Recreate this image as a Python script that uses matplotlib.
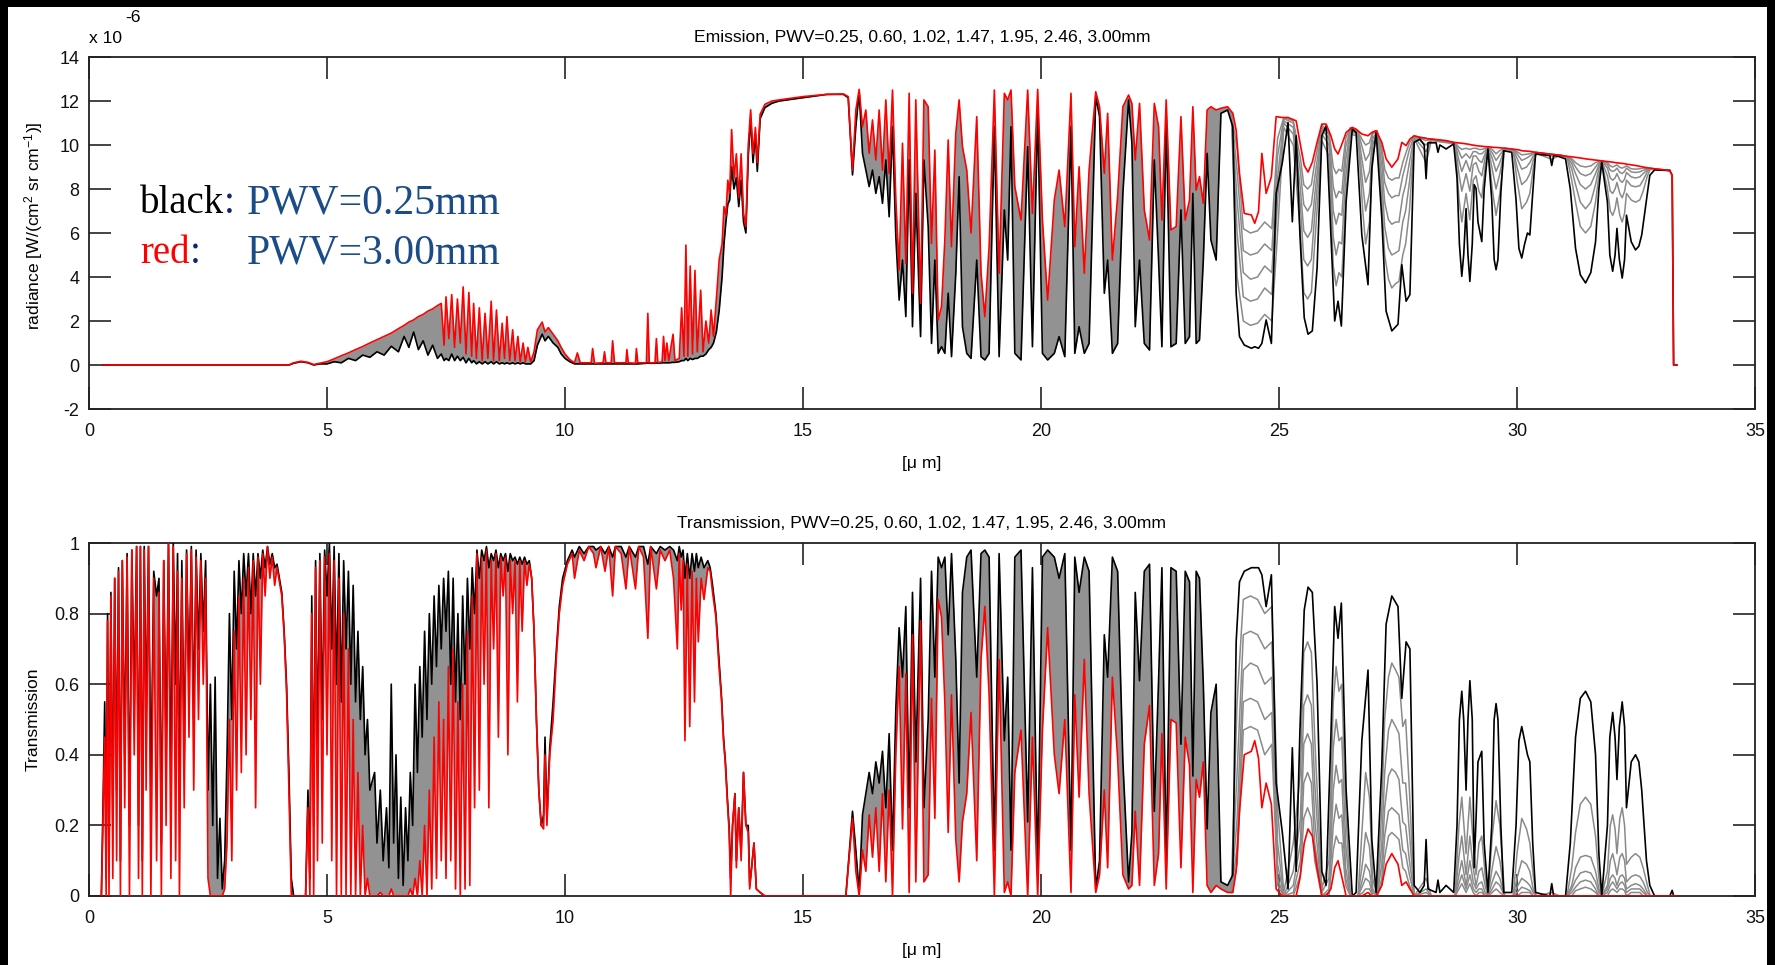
import matplotlib
matplotlib.use("Agg")
import matplotlib.pyplot as plt
import numpy as np
from matplotlib.patches import Rectangle
from matplotlib.ticker import FuncFormatter

# ---- emission spectrum (units of 1e-6 W/(cm^2 sr cm^-1)), PWV = 0.25 mm (black) and 3.00 mm (red)
em_um = [
    0.30, 4.20, 4.30, 4.45, 4.60, 4.72, 4.85, 5.00, 5.15, 5.30,
    5.45, 5.60, 5.75, 5.90, 6.05, 6.20, 6.35, 6.50, 6.62, 6.72,
    6.82, 6.92, 7.02, 7.12, 7.22, 7.32, 7.40, 7.46, 7.50, 7.56,
    7.62, 7.68, 7.74, 7.80, 7.86, 7.92, 7.98, 8.04, 8.08, 8.14,
    8.20, 8.26, 8.32, 8.38, 8.45, 8.50, 8.56, 8.62, 8.68, 8.73,
    8.78, 8.84, 8.90, 8.95, 9.01, 9.06, 9.12, 9.17, 9.22, 9.28,
    9.35, 9.42, 9.52, 9.58, 9.65, 9.75, 9.85, 9.92, 10.00, 10.10,
    10.20, 10.26, 10.32, 10.55, 10.58, 10.62, 10.80, 10.83, 10.86, 10.97,
    11.00, 11.04, 11.28, 11.30, 11.33, 11.48, 11.50, 11.53, 11.71, 11.74,
    11.77, 11.89, 11.92, 11.95, 12.04, 12.07, 12.10, 12.14, 12.18, 12.27,
    12.31, 12.40, 12.45, 12.50, 12.54, 12.58, 12.63, 12.68, 12.73, 12.78,
    12.85, 12.90, 12.96, 13.02, 13.07, 13.12, 13.18, 13.24, 13.30, 13.34,
    13.38, 13.42, 13.46, 13.50, 13.55, 13.60, 13.65, 13.70, 13.75, 13.80,
    13.85, 13.90, 13.95, 14.00, 14.04, 14.10, 14.20, 14.35, 14.50, 15.00,
    15.50, 15.85, 15.95, 16.04, 16.11, 16.18, 16.25, 16.32, 16.39, 16.46,
    16.53, 16.60, 16.67, 16.74, 16.81, 16.88, 16.95, 17.02, 17.09, 17.16,
    17.23, 17.30, 17.37, 17.47, 17.54, 17.63, 17.70, 17.77, 17.84, 17.91,
    17.98, 18.05, 18.12, 18.21, 18.28, 18.35, 18.44, 18.53, 18.65, 18.74,
    18.82, 18.91, 19.02, 19.12, 19.23, 19.30, 19.37, 19.45, 19.58, 19.72,
    19.82, 19.93, 20.03, 20.14, 20.28, 20.38, 20.50, 20.63, 20.71, 20.80,
    20.91, 21.01, 21.15, 21.23, 21.33, 21.40, 21.50, 21.61, 21.72, 21.84,
    21.91, 21.98, 22.07, 22.17, 22.28, 22.38, 22.47, 22.54, 22.63, 22.73,
    22.84, 22.94, 23.03, 23.12, 23.19, 23.26, 23.33, 23.41, 23.49, 23.57,
    23.68, 23.78, 23.92, 24.03, 24.10, 24.17, 24.27, 24.42, 24.49, 24.57,
    24.64, 24.73, 24.84, 24.94, 25.07, 25.19, 25.28, 25.36, 25.44, 25.53,
    25.61, 25.70, 25.80, 25.90, 25.99, 26.09, 26.17, 26.24, 26.31, 26.41,
    26.54, 26.62, 26.74, 26.87, 26.95, 27.04, 27.16, 27.25, 27.37, 27.50,
    27.58, 27.67, 27.75,
    27.84, 27.96, 28.05, 28.09, 28.13, 28.30, 28.34, 28.38, 28.51, 28.67,
    28.74, 28.79, 28.84, 28.88, 28.93, 28.97, 29.01, 29.06, 29.10, 29.14,
    29.18, 29.26, 29.31, 29.39, 29.47, 29.52, 29.56, 29.60, 29.66, 29.72,
    29.89, 29.98, 30.04, 30.10, 30.16, 30.22, 30.27, 30.33, 30.39, 30.69,
    30.73, 30.77, 30.86, 31.02, 31.12, 31.23, 31.33, 31.44, 31.55, 31.65,
    31.72, 31.78, 31.90, 31.95, 32.01, 32.06, 32.10, 32.15, 32.21, 32.26,
    32.30, 32.40, 32.49, 32.56, 32.62, 32.72, 32.79, 32.89, 33.21, 33.26,
    33.29, 33.36,
]
em_pwv025 = [
    0.00, 0.00, 0.08, 0.15, 0.10, 0.00, 0.05, 0.05, 0.15, 0.10,
    0.30, 0.20, 0.45, 0.35, 0.60, 0.45, 0.85, 0.60, 1.30, 0.80,
    1.50, 0.70, 1.10, 0.45, 0.90, 0.30, 0.50, 0.20, 0.30, 0.20,
    0.50, 0.20, 0.40, 0.20, 0.35, 0.10, 0.30, 0.10, 0.20, 0.05,
    0.15, 0.05, 0.15, 0.05, 0.15, 0.05, 0.15, 0.05, 0.10, 0.05,
    0.10, 0.05, 0.10, 0.05, 0.10, 0.05, 0.10, 0.05, 0.05, 0.05,
    0.20, 0.90, 1.40, 1.10, 1.30, 1.00, 0.80, 0.50, 0.30, 0.15,
    0.05, 0.05, 0.05, 0.05, 0.05, 0.05, 0.05, 0.05, 0.05, 0.05,
    0.05, 0.05, 0.05, 0.05, 0.05, 0.05, 0.05, 0.05, 0.08, 0.10,
    0.08, 0.08, 0.10, 0.08, 0.10, 0.10, 0.10, 0.10, 0.10, 0.12,
    0.12, 0.15, 0.20, 0.20, 0.30, 0.20, 0.30, 0.25, 0.30, 0.30,
    0.40, 0.40, 0.50, 0.70, 0.80, 1.00, 1.50, 2.50, 4.00, 5.50,
    6.50, 7.30, 7.50, 9.00, 8.00, 8.50, 7.20, 8.40, 6.50, 6.00,
    9.50, 11.20, 9.20, 10.50, 8.80, 11.20, 11.70, 11.90, 12.00, 12.15,
    12.30, 12.30, 12.15, 8.64, 10.83, 12.42, 9.62, 8.86, 8.11, 8.86,
    7.80, 8.56, 7.35, 9.32, 6.74, 10.83, 5.83, 2.95, 4.77, 2.20,
    9.32, 1.74, 7.80, 1.29, 9.32, 6.29, 0.98, 4.77, 0.53, 0.83,
    0.53, 3.26, 0.38, 4.17, 8.56, 1.74, 0.53, 0.30, 4.77, 0.38,
    0.23, 0.53, 10.83, 0.38, 7.05, 4.77, 10.83, 0.53, 0.23, 9.92,
    0.83, 11.59, 0.53, 0.23, 0.53, 1.29, 0.38, 10.83, 0.53, 1.74,
    0.53, 0.98, 12.20, 11.29, 3.26, 4.77, 0.53, 0.98, 7.80, 12.05,
    10.08, 1.74, 4.77, 0.98, 0.68, 9.32, 4.77, 0.83, 11.14, 0.83,
    0.98, 7.05, 0.98, 1.29, 7.80, 0.98, 1.14, 4.77, 9.62, 5.68,
    4.77, 11.44, 11.59, 10.83, 3.26, 1.29, 0.91, 0.76, 0.83, 0.76,
    0.98, 2.05, 0.98, 7.80, 9.20, 11.02, 6.51, 10.42, 5.91, 2.15,
    1.40, 1.55, 4.41, 10.42, 10.87, 5.91, 2.00, 2.90, 1.77, 7.41,
    10.72, 10.57, 5.91, 3.65, 8.92, 10.57, 6.66, 2.45, 1.55, 1.85,
    4.56, 2.90, 3.20,
    10.12, 10.27, 10.00, 8.47, 10.10, 10.10, 9.67, 10.00, 9.82, 10.05,
    8.50, 5.50, 4.03, 5.00, 7.11, 5.00, 3.80, 5.50, 8.20, 8.02,
    6.50, 5.61, 8.00, 9.82, 7.50, 4.80, 4.33, 4.80, 7.80, 9.74,
    9.67, 7.50, 5.30, 4.86, 5.50, 6.00, 5.91, 7.80, 9.59, 9.52,
    9.07, 9.52, 9.49, 9.37, 8.00, 5.30, 4.10, 3.73, 4.20, 5.60,
    8.00, 9.22, 7.41, 5.00, 4.26, 5.00, 6.21, 4.80, 3.95, 4.80,
    6.81, 5.60, 5.23, 5.40, 5.91, 7.50, 8.62, 8.87, 8.84, 8.62,
    0.00, 0.00,
]
em_pwv300 = [
    0.00, 0.00, 0.10, 0.17, 0.12, 0.02, 0.08, 0.15, 0.28, 0.42,
    0.55, 0.70, 0.84, 1.00, 1.15, 1.30, 1.45, 1.65, 1.80, 1.95,
    2.05, 2.20, 2.30, 2.45, 2.55, 2.70, 2.80, 0.90, 3.10, 1.20,
    3.20, 0.80, 3.00, 1.00, 3.55, 0.50, 3.30, 0.40, 2.80, 0.30,
    2.60, 0.20, 2.35, 0.30, 2.90, 0.20, 2.50, 0.20, 1.90, 0.30,
    2.20, 0.20, 1.60, 0.20, 1.30, 0.15, 1.00, 0.15, 0.80, 0.15,
    0.60, 1.60, 1.95, 1.50, 1.70, 1.40, 1.10, 0.80, 0.50, 0.25,
    0.10, 0.55, 0.10, 0.10, 0.75, 0.08, 0.10, 0.60, 0.10, 0.10,
    1.10, 0.10, 0.10, 0.70, 0.10, 0.08, 0.75, 0.10, 0.10, 2.35,
    0.10, 0.10, 1.20, 0.10, 0.15, 1.30, 0.20, 1.00, 0.20, 1.40,
    0.20, 0.30, 2.60, 0.40, 5.45, 0.40, 4.50, 0.50, 4.30, 0.60,
    3.40, 0.60, 2.00, 1.00, 2.50, 1.30, 3.00, 4.80, 5.50, 7.20,
    6.80, 8.40, 7.80, 10.70, 8.50, 9.60, 7.60, 9.60, 6.90, 6.30,
    10.00, 11.60, 9.60, 10.80, 9.20, 11.40, 11.85, 12.00, 12.05, 12.20,
    12.30, 12.32, 12.20, 8.86, 11.59, 12.53, 10.83, 11.59, 9.62, 11.14,
    9.32, 11.59, 8.86, 12.05, 8.71, 12.50, 7.50, 4.32, 10.08, 4.62,
    12.35, 3.26, 12.05, 2.80, 12.05, 11.74, 5.53, 9.77, 2.05, 2.65,
    5.68, 10.23, 5.38, 10.53, 12.05, 9.92, 8.86, 6.00, 11.29, 4.17,
    2.20, 5.38, 12.50, 4.17, 12.35, 12.05, 12.50, 8.11, 6.59, 12.50,
    6.89, 12.53, 6.59, 2.95, 7.50, 8.86, 6.29, 12.35, 5.38, 9.01,
    4.17, 8.86, 12.42, 11.74, 8.71, 11.44, 4.77, 7.65, 11.74, 12.27,
    11.89, 9.32, 11.89, 7.05, 5.68, 11.89, 10.83, 6.59, 12.05, 6.14,
    6.29, 11.29, 6.59, 7.50, 11.74, 7.95, 8.56, 7.35, 11.59, 11.74,
    11.59, 11.67, 11.74, 11.44, 10.68, 8.71, 6.89, 6.82, 6.44, 6.97,
    9.62, 7.80, 8.56, 11.29, 11.25, 11.25, 11.17, 11.10, 10.12, 9.07,
    8.77, 9.22, 10.12, 10.95, 10.95, 10.42, 9.82, 9.59, 9.97, 10.57,
    10.80, 10.72, 10.50, 10.42, 10.57, 10.65, 10.12, 9.37, 8.99, 9.37,
    10.12, 9.97, 10.27,
    10.42, 10.35, 10.32, 10.30, 10.28, 10.25, 10.24, 10.23, 10.20, 10.12,
    10.10, 10.09, 10.08, 10.07, 10.05, 10.04, 10.02, 10.00, 9.99, 9.97,
    9.96, 9.94, 9.93, 9.92, 9.90, 9.89, 9.89, 9.88, 9.87, 9.86,
    9.82, 9.80, 9.78, 9.74, 9.73, 9.72, 9.71, 9.69, 9.67, 9.59,
    9.58, 9.57, 9.55, 9.49, 9.47, 9.44, 9.41, 9.37, 9.34, 9.31,
    9.29, 9.28, 9.25, 9.24, 9.22, 9.20, 9.19, 9.18, 9.16, 9.15,
    9.13, 9.10, 9.07, 9.04, 9.01, 8.97, 8.95, 8.92, 8.84, 8.62,
    0.00, 0.00,
]

# ---- transmission, PWV = 0.25 mm (black) and 3.00 mm (red)
tr_um = [
    0.26, 0.30, 0.33, 0.36, 0.39, 0.42, 0.46, 0.50, 0.54, 0.58,
    0.62, 0.66, 0.70, 0.75, 0.80, 0.85, 0.90, 0.95, 1.00, 1.04,
    1.08, 1.12, 1.16, 1.20, 1.25, 1.30, 1.36, 1.42, 1.47, 1.52,
    1.57, 1.62, 1.67, 1.72, 1.77, 1.82, 1.86, 1.90, 1.95, 2.00,
    2.05, 2.10, 2.15, 2.20, 2.25, 2.30, 2.35, 2.40, 2.45, 2.50,
    2.55, 2.60, 2.65, 2.70, 2.75, 2.80, 2.85, 2.90, 2.95, 3.00,
    3.05, 3.10, 3.15, 3.20, 3.25, 3.30, 3.35, 3.40, 3.45, 3.50,
    3.55, 3.60, 3.65, 3.70, 3.75, 3.80, 3.85, 3.90, 3.95, 4.00,
    4.05, 4.10, 4.15, 4.20, 4.25, 4.30, 4.55, 4.60, 4.64, 4.68,
    4.72, 4.76, 4.80, 4.85, 4.90, 4.95, 5.00, 5.05, 5.10, 5.15,
    5.20, 5.25, 5.30, 5.35, 5.40, 5.45, 5.50, 5.55, 5.60, 5.65,
    5.70, 5.75, 5.80, 5.85, 5.90, 6.00, 6.05, 6.12, 6.18, 6.25,
    6.30, 6.35, 6.40, 6.45, 6.50, 6.55, 6.60, 6.65, 6.70, 6.75,
    6.80, 6.85, 6.90, 6.95, 7.00, 7.05, 7.10, 7.15, 7.20, 7.25,
    7.30, 7.35, 7.40, 7.45, 7.50, 7.55, 7.60, 7.65, 7.70, 7.75,
    7.80, 7.85, 7.90, 7.95, 8.00, 8.05, 8.10, 8.15, 8.20, 8.25,
    8.30, 8.35, 8.40, 8.45, 8.50, 8.55, 8.60, 8.65, 8.70, 8.75,
    8.80, 8.85, 8.90, 8.95, 9.00, 9.05, 9.10, 9.15, 9.20, 9.25,
    9.30, 9.35, 9.40, 9.45, 9.50, 9.55, 9.58, 9.62, 9.68, 9.75,
    9.82, 9.88, 9.95, 10.05, 10.15, 10.20, 10.30, 10.40, 10.50, 10.60,
    10.65, 10.75, 10.84, 10.92, 11.00, 11.06, 11.18, 11.28, 11.35, 11.48,
    11.55, 11.65, 11.74, 11.80, 11.92, 12.00, 12.10, 12.20, 12.28, 12.36,
    12.40, 12.44, 12.48, 12.52, 12.57, 12.62, 12.67, 12.72, 12.76, 12.80,
    12.86, 12.92, 13.00, 13.05, 13.10, 13.17, 13.23, 13.29, 13.33, 13.37,
    13.41, 13.45, 13.48, 13.52, 13.57, 13.60, 13.65, 13.70, 13.75, 13.80,
    13.85, 13.88, 13.92, 13.97, 14.02, 14.10, 14.20, 15.90, 16.04, 16.11,
    16.18, 16.25, 16.32, 16.39, 16.46, 16.53, 16.60, 16.67, 16.74, 16.81,
    16.88, 16.95, 17.02, 17.09, 17.16, 17.23, 17.30, 17.37, 17.47, 17.54,
    17.63, 17.70, 17.77, 17.84, 17.91, 17.98, 18.05, 18.12, 18.21, 18.28,
    18.35, 18.44, 18.53, 18.65, 18.74, 18.82, 18.91, 19.02, 19.12, 19.23,
    19.30, 19.37, 19.45, 19.58, 19.72, 19.82, 19.93, 20.03, 20.14, 20.28,
    20.38, 20.50, 20.63, 20.71, 20.80, 20.91, 21.01, 21.15, 21.23, 21.33,
    21.40, 21.50, 21.61, 21.72, 21.84, 21.91, 21.98, 22.07, 22.17, 22.28,
    22.38, 22.47, 22.54, 22.63, 22.73, 22.84, 22.94, 23.03, 23.12, 23.19,
    23.26, 23.33, 23.41, 23.49, 23.57, 23.68, 23.78, 23.92, 24.03, 24.10,
    24.17, 24.27, 24.42, 24.49, 24.57, 24.64, 24.73, 24.84, 24.94, 25.07,
    25.19, 25.28, 25.36, 25.44, 25.53, 25.61, 25.70, 25.80, 25.90, 25.99,
    26.09, 26.17, 26.24, 26.31, 26.41, 26.54, 26.62, 26.74, 26.87, 26.95,
    27.04, 27.16, 27.25, 27.37, 27.50, 27.58, 27.67, 27.75,
    27.84, 27.96, 28.05, 28.09, 28.13, 28.30, 28.34, 28.38, 28.51, 28.67,
    28.74, 28.79, 28.84, 28.88, 28.93, 28.97, 29.01, 29.06, 29.10, 29.14,
    29.18, 29.26, 29.31, 29.39, 29.47, 29.52, 29.56, 29.60, 29.66, 29.72,
    29.89, 29.98, 30.04, 30.10, 30.16, 30.22, 30.27, 30.33, 30.39, 30.69,
    30.73, 30.77, 30.86, 31.02, 31.12, 31.23, 31.33, 31.44, 31.55, 31.65,
    31.72, 31.78, 31.90, 31.95, 32.01, 32.06, 32.10, 32.15, 32.21, 32.26,
    32.30, 32.40, 32.49, 32.56, 32.62, 32.72, 32.79, 32.89, 33.21, 33.26,
    33.29, 33.36,
]
tr_pwv025 = [
    0.00, 0.30, 0.55, 0.05, 0.80, 0.10, 0.86, 0.20, 0.90, 0.30,
    0.93, 0.10, 0.95, 0.40, 0.97, 0.20, 0.98, 0.55, 0.99, 0.20,
    0.99, 0.10, 0.99, 0.50, 0.99, 0.30, 0.92, 0.85, 0.90, 0.15,
    0.95, 0.40, 1.00, 0.30, 1.00, 0.60, 0.97, 0.30, 0.95, 0.40,
    0.98, 0.60, 0.99, 0.50, 0.98, 0.70, 0.97, 0.75, 0.95, 0.30,
    0.60, 0.20, 0.62, 0.05, 0.22, 0.02, 0.10, 0.40, 0.80, 0.50,
    0.92, 0.70, 0.95, 0.80, 0.97, 0.85, 0.97, 0.80, 0.97, 0.85,
    0.97, 0.90, 0.98, 0.93, 0.99, 0.94, 0.97, 0.93, 0.94, 0.90,
    0.86, 0.75, 0.60, 0.35, 0.05, 0.00, 0.00, 0.30, 0.05, 0.85,
    0.20, 0.95, 0.40, 0.97, 0.50, 0.98, 0.85, 1.00, 0.70, 0.99,
    0.60, 0.97, 0.55, 0.95, 0.70, 0.92, 0.60, 0.88, 0.55, 0.75,
    0.50, 0.65, 0.40, 0.50, 0.30, 0.35, 0.15, 0.30, 0.10, 0.25,
    0.08, 0.60, 0.15, 0.40, 0.05, 0.28, 0.03, 0.25, 0.10, 0.35,
    0.20, 0.60, 0.35, 0.65, 0.45, 0.75, 0.50, 0.80, 0.60, 0.85,
    0.65, 0.88, 0.70, 0.90, 0.75, 0.92, 0.60, 0.90, 0.55, 0.80,
    0.50, 0.85, 0.60, 0.90, 0.70, 0.93, 0.80, 0.98, 0.90, 0.98,
    0.95, 0.99, 0.93, 0.97, 0.95, 0.98, 0.93, 0.97, 0.95, 0.97,
    0.92, 0.97, 0.95, 0.96, 0.94, 0.96, 0.94, 0.96, 0.94, 0.95,
    0.90, 0.75, 0.50, 0.30, 0.20, 0.23, 0.45, 0.22, 0.42, 0.55,
    0.70, 0.82, 0.90, 0.95, 0.98, 0.96, 0.99, 0.97, 0.99, 0.99,
    0.98, 0.99, 0.97, 0.99, 0.96, 0.99, 0.99, 0.96, 0.99, 0.96,
    0.99, 0.99, 0.94, 0.99, 0.97, 0.99, 0.98, 0.99, 0.98, 0.95,
    0.99, 0.96, 0.98, 0.90, 0.97, 0.90, 0.97, 0.92, 0.97, 0.93,
    0.96, 0.93, 0.95, 0.93, 0.88, 0.80, 0.68, 0.56, 0.45, 0.38,
    0.28, 0.19, 0.05, 0.20, 0.29, 0.10, 0.25, 0.12, 0.35, 0.20,
    0.20, 0.03, 0.08, 0.15, 0.02, 0.01, 0.00, 0.00, 0.24, 0.13,
    0.01, 0.23, 0.29, 0.35, 0.29, 0.38, 0.32, 0.41, 0.25, 0.46,
    0.13, 0.53, 0.76, 0.62, 0.82, 0.25, 0.86, 0.38, 0.90, 0.25,
    0.50, 0.92, 0.62, 0.96, 0.93, 0.96, 0.74, 0.97, 0.67, 0.32,
    0.86, 0.96, 0.98, 0.62, 0.97, 0.98, 0.96, 0.13, 0.97, 0.44,
    0.62, 0.13, 0.96, 0.98, 0.21, 0.93, 0.07, 0.96, 0.98, 0.96,
    0.90, 0.97, 0.13, 0.96, 0.86, 0.96, 0.92, 0.02, 0.10, 0.74,
    0.62, 0.96, 0.92, 0.38, 0.04, 0.18, 0.86, 0.61, 0.92, 0.94,
    0.24, 0.61, 0.93, 0.09, 0.93, 0.92, 0.43, 0.92, 0.89, 0.34,
    0.92, 0.90, 0.60, 0.19, 0.52, 0.60, 0.04, 0.03, 0.06, 0.72,
    0.89, 0.92, 0.93, 0.93, 0.93, 0.91, 0.82, 0.91, 0.32, 0.18,
    0.02, 0.42, 0.07, 0.47, 0.81, 0.875, 0.86, 0.60, 0.07, 0.03,
    0.45, 0.82, 0.73, 0.83, 0.30, 0.00, 0.01, 0.44, 0.64, 0.16,
    0.01, 0.37, 0.77, 0.85, 0.82, 0.56, 0.72, 0.70,
    0.03, 0.01, 0.03, 0.16, 0.02, 0.01, 0.045, 0.01, 0.03, 0.01,
    0.20, 0.50, 0.58, 0.50, 0.30, 0.50, 0.61, 0.50, 0.08, 0.22,
    0.38, 0.41, 0.15, 0.01, 0.20, 0.50, 0.545, 0.50, 0.20, 0.01,
    0.01, 0.20, 0.44, 0.48, 0.44, 0.40, 0.38, 0.15, 0.01, 0.00,
    0.035, 0.00, 0.00, 0.00, 0.15, 0.45, 0.56, 0.58, 0.55, 0.40,
    0.12, 0.00, 0.20, 0.45, 0.52, 0.45, 0.33, 0.48, 0.55, 0.48,
    0.25, 0.38, 0.40, 0.38, 0.30, 0.10, 0.03, 0.00, 0.00, 0.016,
    0.00, 0.00,
]
tr_pwv300 = [
    0.00, 0.25, 0.45, 0.00, 0.78, 0.00, 0.85, 0.05, 0.90, 0.10,
    0.92, 0.00, 0.95, 0.25, 0.96, 0.00, 0.98, 0.40, 0.99, 0.05,
    0.99, 0.00, 0.98, 0.30, 0.99, 0.00, 0.90, 0.10, 0.86, 0.00,
    0.95, 0.20, 1.00, 0.05, 0.99, 0.10, 0.92, 0.00, 0.90, 0.25,
    0.97, 0.45, 0.98, 0.30, 0.96, 0.50, 0.95, 0.60, 0.90, 0.05,
    0.00, 0.00, 0.00, 0.00, 0.00, 0.00, 0.02, 0.15, 0.50, 0.10,
    0.75, 0.30, 0.85, 0.35, 0.90, 0.40, 0.93, 0.50, 0.95, 0.25,
    0.96, 0.60, 0.97, 0.85, 0.99, 0.90, 0.96, 0.88, 0.93, 0.89,
    0.85, 0.74, 0.58, 0.30, 0.00, 0.00, 0.00, 0.25, 0.00, 0.80,
    0.00, 0.93, 0.10, 0.95, 0.15, 0.96, 0.40, 0.97, 0.10, 0.95,
    0.00, 0.90, 0.00, 0.80, 0.00, 0.70, 0.00, 0.50, 0.00, 0.35,
    0.00, 0.20, 0.00, 0.05, 0.00, 0.00, 0.00, 0.01, 0.00, 0.00,
    0.00, 0.02, 0.00, 0.00, 0.00, 0.00, 0.00, 0.00, 0.00, 0.02,
    0.00, 0.05, 0.00, 0.10, 0.00, 0.20, 0.00, 0.30, 0.02, 0.45,
    0.05, 0.55, 0.10, 0.50, 0.05, 0.65, 0.10, 0.70, 0.02, 0.55,
    0.00, 0.60, 0.02, 0.75, 0.03, 0.85, 0.25, 0.97, 0.30, 0.96,
    0.60, 0.98, 0.25, 0.95, 0.70, 0.97, 0.45, 0.96, 0.85, 0.96,
    0.40, 0.95, 0.80, 0.95, 0.55, 0.95, 0.75, 0.95, 0.88, 0.94,
    0.90, 0.75, 0.50, 0.30, 0.20, 0.19, 0.40, 0.20, 0.40, 0.50,
    0.68, 0.80, 0.88, 0.94, 0.97, 0.90, 0.98, 0.95, 0.99, 0.97,
    0.93, 0.99, 0.92, 0.99, 0.85, 0.99, 0.97, 0.87, 0.99, 0.87,
    0.99, 0.96, 0.73, 0.99, 0.87, 0.98, 0.95, 0.98, 0.90, 0.70,
    0.97, 0.81, 0.95, 0.44, 0.94, 0.48, 0.92, 0.55, 0.90, 0.72,
    0.90, 0.84, 0.93, 0.92, 0.86, 0.79, 0.66, 0.55, 0.44, 0.37,
    0.27, 0.18, 0.00, 0.20, 0.29, 0.08, 0.25, 0.10, 0.35, 0.20,
    0.18, 0.02, 0.08, 0.15, 0.02, 0.01, 0.00, 0.00, 0.22, 0.07,
    0.00, 0.13, 0.07, 0.23, 0.11, 0.25, 0.07, 0.29, 0.04, 0.30,
    0.00, 0.40, 0.65, 0.19, 0.63, 0.01, 0.74, 0.04, 0.78, 0.04,
    0.06, 0.56, 0.22, 0.84, 0.79, 0.55, 0.18, 0.57, 0.16, 0.04,
    0.21, 0.29, 0.52, 0.10, 0.67, 0.82, 0.57, 0.00, 0.67, 0.01,
    0.04, 0.00, 0.35, 0.47, 0.00, 0.45, 0.00, 0.47, 0.76, 0.40,
    0.29, 0.50, 0.01, 0.57, 0.28, 0.67, 0.29, 0.01, 0.06, 0.30,
    0.08, 0.62, 0.39, 0.06, 0.02, 0.03, 0.24, 0.03, 0.43, 0.54,
    0.03, 0.12, 0.46, 0.02, 0.50, 0.49, 0.08, 0.45, 0.37, 0.01,
    0.33, 0.28, 0.38, 0.03, 0.01, 0.03, 0.02, 0.01, 0.01, 0.07,
    0.24, 0.40, 0.41, 0.44, 0.39, 0.25, 0.32, 0.26, 0.02, 0.00,
    0.00, 0.00, 0.00, 0.05, 0.15, 0.19, 0.17, 0.08, 0.00, 0.00,
    0.02, 0.08, 0.10, 0.06, 0.00, 0.00, 0.00, 0.00, 0.01, 0.00,
    0.00, 0.03, 0.09, 0.12, 0.09, 0.03, 0.04, 0.02,
    0.00, 0.00, 0.00, 0.00, 0.00, 0.00, 0.00, 0.00, 0.00, 0.00,
    0.00, 0.00, 0.00, 0.00, 0.00, 0.00, 0.00, 0.00, 0.00, 0.00,
    0.00, 0.00, 0.00, 0.00, 0.00, 0.00, 0.00, 0.00, 0.00, 0.00,
    0.00, 0.00, 0.00, 0.00, 0.00, 0.00, 0.00, 0.00, 0.00, 0.00,
    0.00, 0.00, 0.00, 0.00, 0.00, 0.00, 0.00, 0.00, 0.00, 0.00,
    0.00, 0.00, 0.00, 0.00, 0.00, 0.00, 0.00, 0.00, 0.00, 0.00,
    0.00, 0.00, 0.00, 0.00, 0.00, 0.00, 0.00, 0.00, 0.00, 0.00,
    0.00, 0.00,
]

# ---- intermediate PWV curves (0.60, 1.02, 1.47, 1.95, 2.46 mm) in the far-IR windows
fir_um = [
    24.00, 24.12, 24.25, 24.40, 24.55, 24.70, 24.85, 24.97, 25.10, 25.30,
    25.45, 25.52, 25.60, 25.68, 25.75, 25.90, 26.05, 26.14, 26.20, 26.26,
    26.32, 26.40, 26.50, 26.66, 26.76, 26.82, 26.90, 26.97, 27.06, 27.16,
    27.22, 27.30, 27.37, 27.45, 27.52, 27.60, 27.66, 27.74, 27.84, 28.09,
    28.20, 28.70, 28.78, 28.84, 28.93, 29.01, 29.08, 29.14, 29.20, 29.26,
    29.33, 29.39, 29.48, 29.56, 29.64, 29.74, 29.92, 30.00, 30.10, 30.20,
    30.27, 30.34, 30.40, 30.73, 30.90, 31.05, 31.15, 31.23, 31.33, 31.44,
    31.55, 31.65, 31.72, 31.78, 31.90, 31.96, 32.01, 32.06, 32.10, 32.16,
    32.21, 32.26, 32.30, 32.40, 32.49, 32.58, 32.65, 32.74, 32.80, 33.21,
]
em_pwv060 = [
    11.30, 4.00, 2.00, 1.80, 1.90, 2.30, 2.00, 6.00, 10.80, 10.00,
    6.00, 3.30, 3.00, 3.30, 5.50, 10.20, 9.50, 4.50, 3.60, 4.20,
    4.00, 7.50, 10.50, 10.40, 7.00, 5.50, 6.50, 9.50, 10.50, 7.50,
    5.00, 3.90, 3.50, 3.70, 3.80, 5.00, 5.50, 7.00, 10.30, 9.20,
    10.20, 10.05, 7.60, 6.50, 7.80, 6.60, 8.40, 8.60, 7.90, 7.60,
    9.00, 9.85, 8.00, 6.80, 7.80, 9.80, 9.75, 8.40, 7.10, 7.40,
    7.80, 8.90, 9.62, 9.35, 9.53, 9.45, 8.40, 7.40, 6.30, 6.00,
    6.30, 7.40, 8.60, 9.25, 8.00, 7.00, 6.80, 7.10, 7.60, 6.80,
    6.50, 6.90, 7.80, 7.50, 7.40, 7.50, 7.90, 8.60, 8.90, 8.84,
]
em_pwv102 = [
    11.40, 6.00, 3.10, 2.90, 3.00, 3.50, 3.20, 7.50, 11.00, 10.50,
    7.20, 4.80, 4.50, 4.80, 6.80, 10.50, 10.00, 5.80, 5.00, 5.60,
    5.50, 8.50, 10.60, 10.50, 8.20, 7.00, 7.80, 10.00, 10.60, 8.40,
    6.30, 5.30, 5.00, 5.10, 5.20, 6.50, 7.00, 8.30, 10.35, 9.70,
    10.25, 10.08, 8.70, 7.90, 8.70, 7.90, 9.10, 9.20, 8.80, 8.60,
    9.40, 9.88, 8.90, 8.00, 8.70, 9.82, 9.77, 9.00, 8.20, 8.40,
    8.70, 9.30, 9.64, 9.50, 9.53, 9.46, 8.90, 8.20, 7.40, 7.10,
    7.40, 8.20, 8.95, 9.26, 8.60, 7.90, 7.80, 8.00, 8.30, 7.80,
    7.60, 7.90, 8.40, 8.15, 8.10, 8.15, 8.40, 8.80, 8.91, 8.84,
]
em_pwv147 = [
    11.45, 7.50, 4.20, 3.90, 4.00, 4.50, 4.20, 8.50, 11.10, 10.80,
    8.00, 6.10, 5.80, 6.10, 7.70, 10.70, 10.30, 7.00, 6.40, 6.90,
    6.80, 9.30, 10.70, 10.55, 9.10, 8.30, 8.80, 10.30, 10.60, 9.10,
    7.40, 6.60, 6.40, 6.50, 6.50, 7.70, 8.20, 9.20, 10.40, 10.00,
    10.25, 10.10, 9.30, 8.80, 9.30, 8.80, 9.50, 9.50, 9.30, 9.20,
    9.60, 9.90, 9.40, 8.80, 9.20, 9.84, 9.78, 9.40, 8.90, 9.00,
    9.20, 9.50, 9.65, 9.55, 9.54, 9.47, 9.15, 8.70, 8.20, 8.00,
    8.20, 8.70, 9.10, 9.27, 8.95, 8.50, 8.40, 8.50, 8.70, 8.40,
    8.30, 8.45, 8.75, 8.55, 8.50, 8.55, 8.70, 8.87, 8.92, 8.84,
]
em_pwv195 = [
    11.50, 8.80, 5.20, 5.00, 5.10, 5.50, 5.20, 9.50, 11.20, 11.00,
    8.80, 7.30, 7.00, 7.30, 8.50, 10.80, 10.50, 8.10, 7.60, 7.90,
    7.80, 9.90, 10.75, 10.60, 9.80, 9.30, 9.60, 10.50, 10.65, 9.60,
    8.30, 7.80, 7.60, 7.70, 7.70, 8.60, 9.10, 9.80, 10.40, 10.20,
    10.27, 10.10, 9.70, 9.40, 9.60, 9.40, 9.70, 9.70, 9.60, 9.60,
    9.75, 9.90, 9.65, 9.30, 9.55, 9.85, 9.80, 9.60, 9.30, 9.40,
    9.50, 9.60, 9.66, 9.57, 9.54, 9.47, 9.30, 9.00, 8.70, 8.60,
    8.70, 9.00, 9.20, 9.27, 9.10, 8.85, 8.80, 8.85, 8.95, 8.75,
    8.70, 8.80, 8.95, 8.78, 8.75, 8.78, 8.85, 8.90, 8.93, 8.84,
]
em_pwv246 = [
    11.50, 9.80, 6.20, 6.00, 6.10, 6.50, 6.20, 10.30, 11.25, 11.10,
    9.40, 8.20, 8.00, 8.20, 9.20, 10.90, 10.60, 9.00, 8.70, 8.90,
    8.80, 10.30, 10.80, 10.60, 10.20, 10.00, 10.10, 10.60, 10.65, 9.90,
    8.90, 8.50, 8.40, 8.50, 8.50, 9.20, 9.60, 10.10, 10.40, 10.30,
    10.27, 10.10, 9.90, 9.80, 9.85, 9.80, 9.85, 9.85, 9.80, 9.80,
    9.85, 9.90, 9.80, 9.60, 9.75, 9.85, 9.80, 9.70, 9.55, 9.58,
    9.60, 9.65, 9.66, 9.57, 9.54, 9.48, 9.38, 9.20, 9.05, 9.00,
    9.05, 9.20, 9.25, 9.28, 9.20, 9.05, 9.00, 9.05, 9.10, 8.98,
    8.95, 9.00, 9.05, 8.92, 8.90, 8.92, 8.95, 8.93, 8.94, 8.84,
]
tr_pwv060 = [
    0.03, 0.55, 0.84, 0.85, 0.84, 0.80, 0.82, 0.25, 0.01, 0.15,
    0.35, 0.69, 0.72, 0.69, 0.45, 0.02, 0.10, 0.55, 0.65, 0.58,
    0.60, 0.25, 0.00, 0.00, 0.22, 0.35, 0.28, 0.05, 0.00, 0.25,
    0.50, 0.62, 0.66, 0.64, 0.62, 0.48, 0.50, 0.30, 0.00, 0.05,
    0.00, 0.00, 0.20, 0.28, 0.12, 0.28, 0.15, 0.06, 0.15, 0.17,
    0.06, 0.00, 0.17, 0.27, 0.20, 0.00, 0.00, 0.12, 0.22, 0.19,
    0.15, 0.06, 0.00, 0.01, 0.00, 0.00, 0.08, 0.18, 0.26, 0.28,
    0.26, 0.17, 0.05, 0.00, 0.07, 0.20, 0.23, 0.19, 0.12, 0.22,
    0.25, 0.20, 0.09, 0.11, 0.12, 0.11, 0.08, 0.03, 0.00, 0.00,
]
tr_pwv102 = [
    0.02, 0.35, 0.74, 0.75, 0.74, 0.70, 0.72, 0.15, 0.00, 0.07,
    0.22, 0.54, 0.57, 0.54, 0.32, 0.01, 0.05, 0.42, 0.50, 0.44,
    0.45, 0.15, 0.00, 0.00, 0.10, 0.18, 0.14, 0.02, 0.00, 0.15,
    0.35, 0.47, 0.50, 0.48, 0.46, 0.32, 0.32, 0.18, 0.00, 0.02,
    0.00, 0.00, 0.11, 0.17, 0.06, 0.17, 0.08, 0.03, 0.07, 0.08,
    0.03, 0.00, 0.08, 0.14, 0.10, 0.00, 0.00, 0.05, 0.10, 0.09,
    0.07, 0.02, 0.00, 0.00, 0.00, 0.00, 0.03, 0.08, 0.11, 0.115,
    0.11, 0.07, 0.02, 0.00, 0.03, 0.10, 0.12, 0.09, 0.06, 0.11,
    0.12, 0.10, 0.04, 0.055, 0.06, 0.055, 0.04, 0.01, 0.00, 0.00,
]
tr_pwv147 = [
    0.02, 0.22, 0.64, 0.66, 0.65, 0.60, 0.62, 0.09, 0.00, 0.03,
    0.15, 0.43, 0.46, 0.43, 0.22, 0.00, 0.02, 0.30, 0.37, 0.32,
    0.33, 0.08, 0.00, 0.00, 0.05, 0.09, 0.07, 0.01, 0.00, 0.09,
    0.25, 0.34, 0.36, 0.35, 0.33, 0.21, 0.20, 0.10, 0.00, 0.01,
    0.00, 0.00, 0.06, 0.10, 0.03, 0.10, 0.04, 0.02, 0.035, 0.04,
    0.01, 0.00, 0.04, 0.07, 0.05, 0.00, 0.00, 0.025, 0.05, 0.04,
    0.03, 0.01, 0.00, 0.00, 0.00, 0.00, 0.02, 0.045, 0.065, 0.07,
    0.065, 0.04, 0.01, 0.00, 0.02, 0.05, 0.06, 0.05, 0.03, 0.055,
    0.06, 0.05, 0.02, 0.03, 0.035, 0.03, 0.02, 0.00, 0.00, 0.00,
]
tr_pwv195 = [
    0.01, 0.14, 0.55, 0.56, 0.55, 0.50, 0.52, 0.05, 0.00, 0.01,
    0.10, 0.32, 0.35, 0.32, 0.15, 0.00, 0.01, 0.20, 0.26, 0.22,
    0.23, 0.05, 0.00, 0.00, 0.03, 0.05, 0.04, 0.00, 0.00, 0.05,
    0.17, 0.24, 0.25, 0.24, 0.23, 0.13, 0.12, 0.06, 0.00, 0.00,
    0.00, 0.00, 0.035, 0.06, 0.02, 0.06, 0.02, 0.01, 0.02, 0.02,
    0.00, 0.00, 0.02, 0.04, 0.03, 0.00, 0.00, 0.01, 0.025, 0.02,
    0.015, 0.00, 0.00, 0.00, 0.00, 0.00, 0.01, 0.025, 0.04, 0.045,
    0.04, 0.02, 0.00, 0.00, 0.01, 0.03, 0.04, 0.03, 0.02, 0.035,
    0.04, 0.03, 0.01, 0.02, 0.02, 0.02, 0.01, 0.00, 0.00, 0.00,
]
tr_pwv246 = [
    0.01, 0.09, 0.47, 0.48, 0.47, 0.40, 0.43, 0.03, 0.00, 0.00,
    0.06, 0.22, 0.25, 0.22, 0.10, 0.00, 0.00, 0.13, 0.17, 0.15,
    0.15, 0.03, 0.00, 0.00, 0.01, 0.02, 0.02, 0.00, 0.00, 0.03,
    0.11, 0.17, 0.18, 0.17, 0.16, 0.08, 0.07, 0.03, 0.00, 0.00,
    0.00, 0.00, 0.02, 0.035, 0.01, 0.035, 0.01, 0.00, 0.01, 0.01,
    0.00, 0.00, 0.01, 0.02, 0.01, 0.00, 0.00, 0.00, 0.01, 0.01,
    0.01, 0.00, 0.00, 0.00, 0.00, 0.00, 0.00, 0.015, 0.02, 0.025,
    0.02, 0.01, 0.00, 0.00, 0.00, 0.015, 0.02, 0.015, 0.01, 0.02,
    0.02, 0.015, 0.00, 0.01, 0.01, 0.01, 0.00, 0.00, 0.00, 0.00,
]

X_TICKS = [0, 5, 10, 15, 20, 25, 30, 35]
EM_TICKS = [-2, 0, 2, 4, 6, 8, 10, 12, 14]
TR_TICKS = [0, 0.2, 0.4, 0.6, 0.8, 1]
PWV_LIST = "0.25, 0.60, 1.02, 1.47, 1.95, 2.46, 3.00mm"

W, H = 1775, 965
GRAY = "#8a8a8a"
GRAY_FILL = "#929292"
BLUE = "#1b4c88"
NAVY = "#13236e"


def style(ax, yticks):
    ax.set_xlim(0, 35)
    ax.set_xticks(X_TICKS)
    ax.set_yticks(yticks)
    ax.tick_params(direction="in", length=16, width=1.1, top=True, right=True,
                   labelsize=13, colors="#111111")
    ax.tick_params(axis="x", pad=10)
    ax.tick_params(axis="y", pad=7)
    ax.yaxis.set_major_formatter(FuncFormatter(lambda v, p: f"{v:g}"))
    for s in ax.spines.values():
        s.set_linewidth(1.3)
        s.set_color("#222222")


def draw_panel(ax, x, black, red, grays):
    x = np.asarray(x)
    black = np.asarray(black)
    red = np.asarray(red)
    dense = x <= 24.05
    ax.fill_between(x, black, red, where=dense, color=GRAY_FILL, lw=0, zorder=1)
    for g in grays:
        ax.plot(fir_um, g, color=GRAY, lw=1.1, zorder=2)
    ax.plot(x, black, color="black", lw=1.2, zorder=3)
    ax.plot(x, red, color="red", lw=1.2, zorder=4)


def main():
    plt.rcParams.update({
        "font.family": ["Liberation Sans", "DejaVu Sans"],
        "axes.unicode_minus": False,
        "mathtext.fontset": "custom",
        "mathtext.rm": "Liberation Sans",
        "mathtext.it": "Liberation Sans:italic",
    })
    fig = plt.figure(figsize=(W / 100, H / 100), dpi=100)
    fig.patch.set_facecolor("black")
    fig.add_artist(Rectangle((8 / W, 0), (1767 - 8) / W, (H - 7) / H, transform=fig.transFigure,
                             facecolor="white", edgecolor="none", zorder=-5))

    ax1 = fig.add_axes([89 / W, 1 - 409 / H, 1666 / W, 352 / H])
    ax2 = fig.add_axes([89 / W, 1 - 896 / H, 1666 / W, 353 / H])

    # emission
    draw_panel(ax1, em_um, em_pwv025, em_pwv300,
               [em_pwv060, em_pwv102, em_pwv147, em_pwv195, em_pwv246])
    style(ax1, EM_TICKS)
    ax1.set_ylim(-2, 14)
    ax1.set_title("Emission, PWV=" + PWV_LIST, fontsize=12.6, pad=11)
    ax1.set_xlabel("[\u03bc m]", fontsize=12.6)
    ax1.xaxis.set_label_coords(0.5, -0.133)
    ax1.set_ylabel(r"radiance [W/(cm$^{2}$ sr cm$^{-1}$)]", fontsize=12.6)
    ax1.yaxis.set_label_coords(-0.0264, 0.52)
    fig.text(89 / W, 1 - 43 / H, "x 10", fontsize=12.6, va="baseline")
    fig.text(125 / W, 1 - 22 / H, "-6", fontsize=12.6, va="baseline")

    # colour key written on the emission panel
    serif = ["Liberation Serif", "DejaVu Serif"]
    t1 = fig.text(140 / W, 1 - 213 / H, "black", fontsize=28, family=serif, color="black", va="baseline")
    ax1.annotate(":", xy=(1, 0), xycoords=t1, fontsize=28, family=serif, color=NAVY, va="bottom")
    fig.text(247 / W, 1 - 213 / H, "PWV=0.25mm", fontsize=30, family=serif, color=BLUE, va="baseline")
    t2 = fig.text(140 / W, 1 - 263 / H, "red", fontsize=28, family=serif, color="red", va="baseline")
    ax1.annotate(":", xy=(1, 0), xycoords=t2, fontsize=28, family=serif, color=NAVY, va="bottom")
    fig.text(247 / W, 1 - 263 / H, "PWV=3.00mm", fontsize=30, family=serif, color=BLUE, va="baseline")

    # transmission
    draw_panel(ax2, tr_um, tr_pwv025, tr_pwv300,
               [tr_pwv060, tr_pwv102, tr_pwv147, tr_pwv195, tr_pwv246])
    style(ax2, TR_TICKS)
    ax2.set_ylim(0, 1)
    ax2.set_title("Transmission, PWV=" + PWV_LIST, fontsize=12.6, pad=11)
    ax2.set_xlabel("[\u03bc m]", fontsize=12.6)
    ax2.xaxis.set_label_coords(0.5, -0.133)
    ax2.set_ylabel("Transmission", fontsize=12.6)
    ax2.yaxis.set_label_coords(-0.029, 0.5)

    fig.savefig("out.png", dpi=100, facecolor=fig.get_facecolor())


if __name__ == "__main__":
    main()
